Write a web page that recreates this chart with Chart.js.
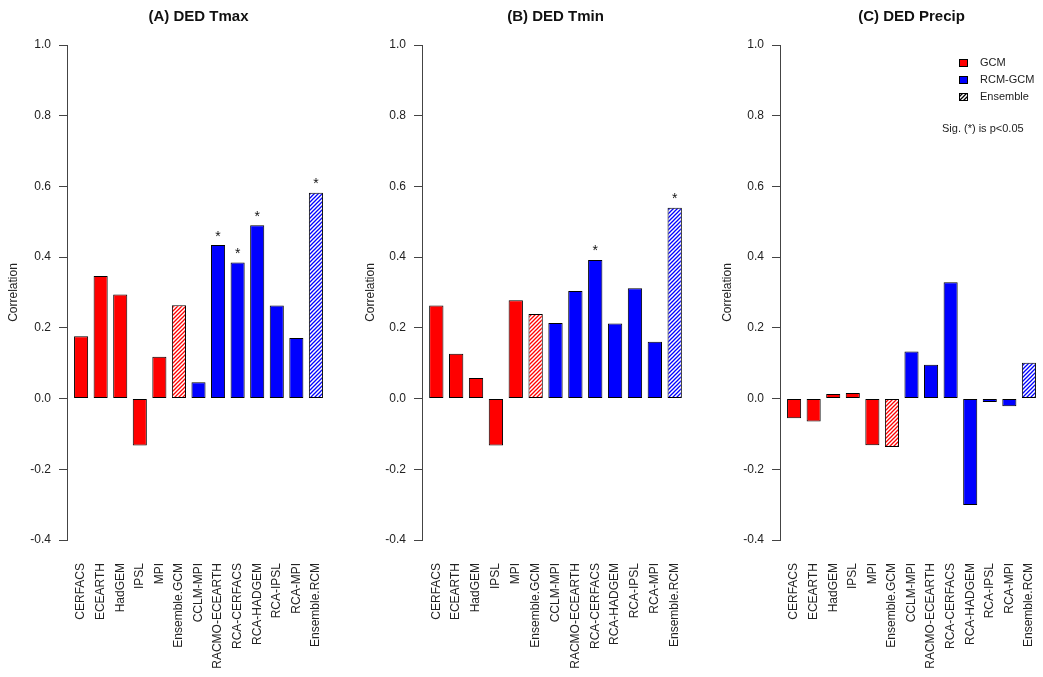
<!DOCTYPE html>
<html>

<head>
  <script src="https://cdn.jsdelivr.net/npm/chart.js@4/dist/chart.umd.min.js"></script>
  <style>
    body { margin: 0; background: #fff; }
    canvas { position: absolute; top: 0; }
  </style>
</head>

<body>
  <canvas id="tmax" width="330" height="677" style="left:0px"></canvas>
  <canvas id="tmin" width="339" height="677" style="left:350px"></canvas>
  <canvas id="precip" width="343" height="677" style="left:700px"></canvas>
  <script>
    const categories = ['CERFACS', 'ECEARTH', 'HadGEM', 'IPSL', 'MPI', 'Ensemble.GCM', 'CCLM-MPI',
      'RACMO-ECEARTH', 'RCA-CERFACS', 'RCA-HADGEM', 'RCA-IPSL', 'RCA-MPI', 'Ensemble.RCM'];
    const groups = ['GCM', 'GCM', 'GCM', 'GCM', 'GCM', 'EnsGCM', 'RCM',
      'RCM', 'RCM', 'RCM', 'RCM', 'RCM', 'EnsRCM'];

    const tmaxValues = [0.176, 0.347, 0.294, -0.133, 0.118, 0.264, 0.046, 0.434, 0.385, 0.490, 0.263, 0.171, 0.582];
    const tminValues = [0.263, 0.127, 0.058, -0.133, 0.278, 0.239, 0.214, 0.304, 0.392, 0.212, 0.312, 0.161, 0.540];
    const precipValues = [-0.056, -0.065, 0.013, 0.016, -0.132, -0.137, 0.133, 0.096, 0.329, -0.301, -0.010, -0.022, 0.101];

    // 1 = significant (*) at p<0.05
    const tmaxSig = [0, 0, 0, 0, 0, 0, 0, 1, 1, 1, 0, 0, 1];
    const tminSig = [0, 0, 0, 0, 0, 0, 0, 0, 1, 0, 0, 0, 1];
    const precipSig = [0, 0, 0, 0, 0, 0, 0, 0, 0, 0, 0, 0, 0];

    const yTicks = [-0.4, -0.2, 0.0, 0.2, 0.4, 0.6, 0.8, 1.0];
    const legendLabels = ['GCM', 'RCM-GCM', 'Ensemble'];
    const sigNote = 'Sig. (*) is p<0.05';

    Chart.defaults.font.family = '"Liberation Sans", Arial, sans-serif';
    Chart.defaults.color = '#222';

    function hatch(color) {
      const c = document.createElement('canvas');
      c.width = c.height = 4;
      const g = c.getContext('2d');
      g.fillStyle = '#fff';
      g.fillRect(0, 0, 4, 4);
      g.strokeStyle = color;
      g.lineWidth = 1.3;
      g.beginPath();
      g.moveTo(0, 4); g.lineTo(4, 0);
      g.moveTo(-1, 1); g.lineTo(1, -1);
      g.moveTo(3, 5); g.lineTo(5, 3);
      g.stroke();
      return g.createPattern(c, 'repeat');
    }

    const fills = {
      GCM: '#ff0000',
      RCM: '#0000ff',
      EnsGCM: hatch('#ff0000'),
      EnsRCM: hatch('#0000ff')
    };

    // panel title centred over the plot region, plus the significance stars
    const decor = {
      id: 'decor',
      afterDatasetsDraw(chart, args, opts) {
        const ctx = chart.ctx, area = chart.chartArea;
        ctx.save();
        ctx.fillStyle = '#111';
        ctx.font = 'bold 15px "Liberation Sans", Arial, sans-serif';
        ctx.textAlign = 'center';
        ctx.textBaseline = 'alphabetic';
        ctx.fillText(opts.title, (area.left + area.right) / 2, 21);

        ctx.font = '14px "Liberation Sans", Arial, sans-serif';
        chart.getDatasetMeta(0).data.forEach((bar, i) => {
          if (opts.sig[i]) ctx.fillText('*', bar.x, Math.min(bar.y, bar.base) - 4.5);
        });

        if (opts.legend) {
          const lx = 259, rows = [63, 80, 97];
          const boxes = [fills.GCM, fills.RCM, hatch('#000')];
          ctx.font = '11px "Liberation Sans", Arial, sans-serif';
          ctx.textAlign = 'left';
          ctx.textBaseline = 'middle';
          legendLabels.forEach((t, i) => {
            ctx.fillStyle = boxes[i];
            ctx.fillRect(lx, rows[i] - 4, 9, 8);
            ctx.strokeStyle = '#000';
            ctx.lineWidth = 1;
            ctx.strokeRect(lx + 0.5, rows[i] - 3.5, 8, 7);
            ctx.fillStyle = '#222';
            ctx.fillText(t, 280, rows[i]);
          });
          ctx.fillText(sigNote, 242, 129);
        }
        ctx.restore();
      }
    };

    function makeChart(id, values, sig, title, axisW, ylabPad, legend) {
      return new Chart(id, {
        type: 'bar',
        data: {
          datasets: [{
            data: values.map((v, i) => ({ x: i, y: v })),
            backgroundColor: groups.map(g => fills[g]),
            borderColor: '#000',
            borderWidth: 1,
            borderSkipped: false,
            categoryPercentage: 1,
            barPercentage: 0.72
          }]
        },
        plugins: [decor],
        options: {
          responsive: false,
          animation: false,
          devicePixelRatio: 1,
          layout: { padding: { top: 45, left: 0, right: 0, bottom: 0 } },
          plugins: {
            legend: { display: false },
            tooltip: { enabled: false },
            decor: { title: title, sig: sig, legend: legend }
          },
          scales: {
            x: {
              type: 'linear',
              offset: false,
              min: -0.72,
              max: 12.72,
              afterBuildTicks: s => { s.ticks = categories.map((c, i) => ({ value: i })); },
              afterFit: s => { s.height = 137; s.paddingLeft = 0; s.paddingRight = 0; },
              grid: { display: false, drawTicks: false },
              border: { display: false },
              ticks: {
                autoSkip: false,
                minRotation: 90,
                maxRotation: 90,
                padding: 23,
                color: '#222',
                font: { size: 12 },
                callback: v => categories[v]
              }
            },
            y: {
              min: -0.4,
              max: 1.0,
              afterBuildTicks: s => { s.ticks = yTicks.map(v => ({ value: v })); },
              afterFit: s => { s.width = axisW; },
              grid: { drawOnChartArea: false, drawTicks: true, tickLength: 8, color: '#444' },
              border: { display: true, color: '#444' },
              ticks: {
                padding: 8,
                color: '#222',
                font: { size: 12 },
                callback: v => v.toFixed(1)
              },
              title: {
                display: true,
                text: 'Correlation',
                color: '#222',
                font: { size: 12 },
                padding: { top: ylabPad, bottom: 0 }
              }
            }
          }
        }
      });
    }

    makeChart('tmax', tmaxValues, tmaxSig, '(A) DED Tmax', 67, 6, false);
    makeChart('tmin', tminValues, tminSig, '(B) DED Tmin', 72, 13, false);
    makeChart('precip', precipValues, precipSig, '(C) DED Precip', 80, 20, true);
  </script>
</body>

</html>
